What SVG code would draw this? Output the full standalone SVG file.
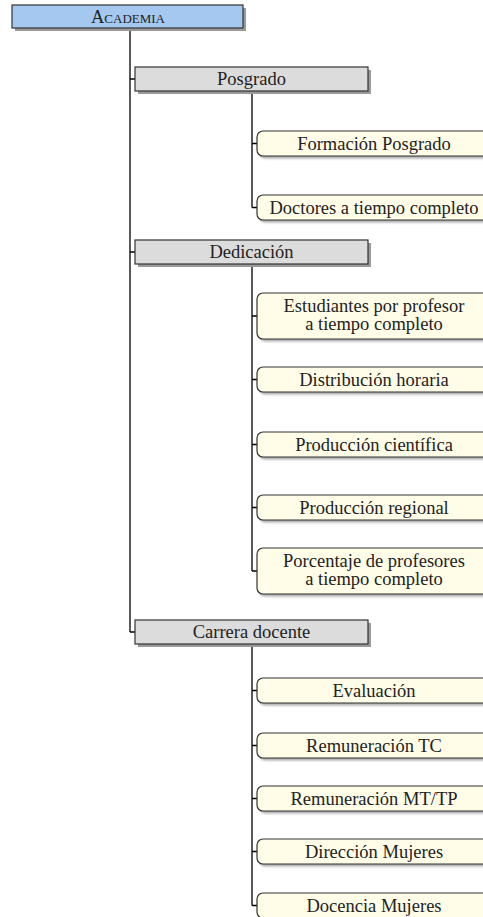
<svg xmlns="http://www.w3.org/2000/svg" width="483" height="917" viewBox="0 0 483 917">
<style>
text{font-family:'Liberation Serif','DejaVu Serif',serif;font-size:18.5px;fill:#222;text-anchor:middle}
.root{fill:#a5c8f0;stroke:#333;stroke-width:1.2}
.l1{fill:#dcdcdc;stroke:#333;stroke-width:1.2}
.leaf{fill:#fffde8;stroke:#333;stroke-width:1.2}
.sh{fill:#9a9a9a}
.shl{fill:#aaa;filter:url(#blur)}
#connectors path{fill:none;stroke:#000;stroke-width:1.3}
</style>
<defs>
<filter id="blur" x="-10%" y="-30%" width="120%" height="160%"><feGaussianBlur stdDeviation="0.8"/></filter>
</defs>
<rect width="483" height="917" fill="#fff"/>
<g id="connectors">
<path d="M130,28 V632 M130,79 H135 M130,252 H135 M130,632 H135"/>
<path d="M252,92 V207.5 M252,143.5 H257 M252,207.5 H257"/>
<path d="M252,264 V571 M252,316 H257 M252,379.5 H257 M252,444.5 H257 M252,507.5 H257 M252,571 H257"/>
<path d="M252,644 V905.5 M252,690.5 H257 M252,745.5 H257 M252,798.5 H257 M252,851.5 H257 M252,905.5 H257"/>
</g>
<g id="academia"><rect class="sh" x="15" y="8" width="231" height="23"/><rect class="root" x="12" y="5" width="231" height="23"/><text x="128" y="22.5" font-variant="small-caps">Academia</text></g>
<g id="posgrado"><rect class="sh" x="138" y="70" width="233" height="24"/><rect class="l1" x="135" y="67" width="233" height="24"/><text x="251.5" y="85">Posgrado</text></g>
<g id="dedicacion"><rect class="sh" x="138" y="243" width="233" height="24"/><rect class="l1" x="135" y="240" width="233" height="24"/><text x="251.5" y="258">Dedicación</text></g>
<g id="carrera"><rect class="sh" x="138" y="623" width="233" height="24"/><rect class="l1" x="135" y="620" width="233" height="24"/><text x="251.5" y="638">Carrera docente</text></g>

<g id="formacion"><rect class="shl" x="259" y="133.5" width="234" height="25" rx="6"/><rect class="leaf" x="257" y="131" width="234" height="25" rx="6"/><text x="374" y="149.5">Formación Posgrado</text></g>
<g id="doctores"><rect class="shl" x="259" y="197.5" width="234" height="25" rx="6"/><rect class="leaf" x="257" y="195" width="234" height="25" rx="6"/><text x="374" y="213.5">Doctores a tiempo completo</text></g>

<g id="estudiantes"><rect class="shl" x="259" y="295.5" width="234" height="46" rx="6"/><rect class="leaf" x="257" y="293" width="234" height="46" rx="6"/><text x="374" y="311.5">Estudiantes por profesor</text><text x="374" y="330">a tiempo completo</text></g>
<g id="distribucion"><rect class="shl" x="259" y="369.5" width="234" height="25" rx="6"/><rect class="leaf" x="257" y="367" width="234" height="25" rx="6"/><text x="374" y="385.5">Distribución horaria</text></g>
<g id="cientifica"><rect class="shl" x="259" y="434.5" width="234" height="25" rx="6"/><rect class="leaf" x="257" y="432" width="234" height="25" rx="6"/><text x="374" y="450.5">Producción científica</text></g>
<g id="regional"><rect class="shl" x="259" y="497.5" width="234" height="25" rx="6"/><rect class="leaf" x="257" y="495" width="234" height="25" rx="6"/><text x="374" y="513.5">Producción regional</text></g>
<g id="porcentaje"><rect class="shl" x="259" y="550.5" width="234" height="46" rx="6"/><rect class="leaf" x="257" y="548" width="234" height="46" rx="6"/><text x="374" y="566.5">Porcentaje de profesores</text><text x="374" y="585">a tiempo completo</text></g>

<g id="evaluacion"><rect class="shl" x="259" y="680.5" width="234" height="25" rx="6"/><rect class="leaf" x="257" y="678" width="234" height="25" rx="6"/><text x="374" y="696.5">Evaluación</text></g>
<g id="remtc"><rect class="shl" x="259" y="735.5" width="234" height="25" rx="6"/><rect class="leaf" x="257" y="733" width="234" height="25" rx="6"/><text x="374" y="751.5">Remuneración TC</text></g>
<g id="remmt"><rect class="shl" x="259" y="788.5" width="234" height="25" rx="6"/><rect class="leaf" x="257" y="786" width="234" height="25" rx="6"/><text x="374" y="804.5">Remuneración MT/TP</text></g>
<g id="direccion"><rect class="shl" x="259" y="841.5" width="234" height="25" rx="6"/><rect class="leaf" x="257" y="839" width="234" height="25" rx="6"/><text x="374" y="857.5">Dirección Mujeres</text></g>
<g id="docencia"><rect class="shl" x="259" y="895.5" width="234" height="25" rx="6"/><rect class="leaf" x="257" y="893" width="234" height="25" rx="6"/><text x="374" y="911.5">Docencia Mujeres</text></g>
</svg>
